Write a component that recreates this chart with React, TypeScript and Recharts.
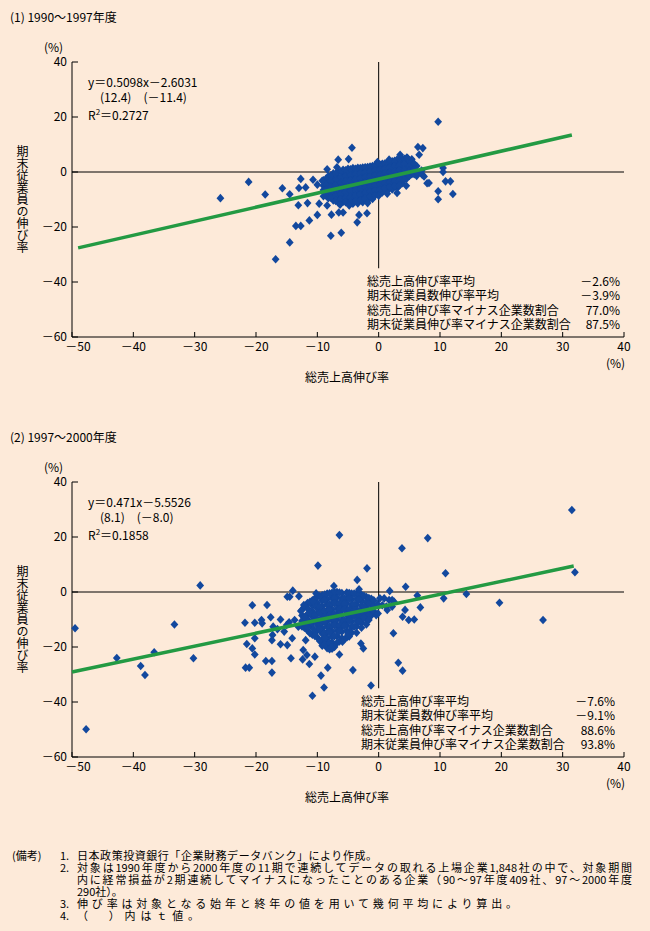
import React from 'react';
import { Scatter, ScatterChart, XAxis, YAxis } from 'recharts';

const FONT = '"Noto Sans CJK JP", "Noto Sans", sans-serif';
const BG = '#fdead9';
const BLUE = '#12489e';
const GREEN = '#239a43';

const xTicks = [-50, -40, -30, -20, -10, 0, 10, 20, 30, 40];
const yTicks = [-60, -40, -20, 0, 20, 40];

// (1) 1990-1997: [sales growth %, employee growth %]
const outliers1: [number, number][] = [
  [9.7, 18.3], [6.4, 9.1], [7.2, 8.7], [-4.35, 8.8], [6.6, 6.3], [3.5, 6.3], [4.7, 5.1],
  [1.7, 4.5], [-0.2, 3.6], [-6.6, 4.5], [-4.9, 4.7], [-8.4, 1.0], [-6.8, 1.7], [10.5, 1.5],
  [10.5, 0], [8.2, -4.0], [10.9, -3.4], [11.7, -3.4], [9.7, -7.0], [9.7, -9.9], [12.1, -8.0],
  [4.5, -5.0], [3.0, -7.6], [1.4, -7.9], [0, -8.6], [-25.8, -9.5], [-21.2, -3.6], [-18.5, -8.2],
  [-15.7, -5.9], [-14.5, -8.1], [-13.0, -5.8], [-12.7, -2.5], [-13.1, -12.1], [-11.6, -11.3],
  [-13.5, -19.6], [-12.7, -19.6], [-14.5, -25.6], [-16.8, -31.7], [-11.3, -17.6], [-10, -15.6],
  [-7.8, -23.2], [-6.1, -22.1], [-7.7, -15.5], [-6.5, -14.7], [-5.8, -14.7], [-3.5, -18.3],
  [-3.2, -15.6], [-1.9, -15.0], [-11.9, -5.6], [-10.7, -2.8], [-9.2, -3.2], [-10, -4.6],
  [-9.0, -8.8], [-9.7, -11.5], [-8.4, -12.2], [-6.3, -11.9], [-4.8, -12.2], [-1.8, -11.3],
  [6.3, -0.4], [7.1, -1.0], [7.4, -1.6], [7.9, -4.1],
];

const cluster1: [number, number][] = [
  [-9, -3], [-9, -5], [-9, -6.5],
  [-8.2, -1.5], [-8.2, -3.5], [-8.2, -5.5], [-8.2, -7.5], [-8.2, -9.5],
  [-7.4, -0.5], [-7.4, -2.5], [-7.4, -4.5], [-7.4, -6.5], [-7.4, -8.5], [-7.4, -10.3],
  [-6.6, 0.3], [-6.6, -1.8], [-6.6, -3.8], [-6.6, -5.8], [-6.6, -7.7], [-6.6, -9.6], [-6.6, -11],
  [-5.8, 0.8], [-5.8, -1.2], [-5.8, -3.2], [-5.8, -5.2], [-5.8, -7.1], [-5.8, -9.1], [-5.8, -10.8],
  [-5.0, 1.2], [-5.0, -0.8], [-5.0, -2.7], [-5.0, -4.6], [-5.0, -6.6], [-5.0, -8.5], [-5.0, -10.5],
  [-4.2, 1.4], [-4.2, -0.5], [-4.2, -2.4], [-4.2, -4.3], [-4.2, -6.3], [-4.2, -8.2], [-4.2, -10.2], [-4.2, -11.5],
  [-3.4, 1.5], [-3.4, -0.2], [-3.4, -2.0], [-3.4, -3.9], [-3.4, -5.9], [-3.4, -7.8], [-3.4, -9.8], [-3.4, -11.4],
  [-2.6, 1.6], [-2.6, 0.1], [-2.6, -1.6], [-2.6, -3.5], [-2.6, -5.4], [-2.6, -7.4], [-2.6, -9.3], [-2.6, -11],
  [-1.8, 1.8], [-1.8, 0.3], [-1.8, -1.3], [-1.8, -3.1], [-1.8, -5.0], [-1.8, -6.9], [-1.8, -8.8], [-1.8, -10.4],
  [-1.0, 2.2], [-1.0, 0.6], [-1.0, -1.0], [-1.0, -2.8], [-1.0, -4.6], [-1.0, -6.5], [-1.0, -8.3], [-1.0, -9.8],
  [-0.2, 2.6], [-0.2, 0.9], [-0.2, -0.7], [-0.2, -2.4], [-0.2, -4.2], [-0.2, -6.0], [-0.2, -7.8],
  [0.6, 3.0], [0.6, 1.2], [0.6, -0.4], [0.6, -2.1], [0.6, -3.8], [0.6, -5.6], [0.6, -7.4],
  [1.4, 3.4], [1.4, 1.6], [1.4, -0.1], [1.4, -1.8], [1.4, -3.5], [1.4, -5.2], [1.4, -6.8],
  [2.2, 3.9], [2.2, 2.0], [2.2, 0.3], [2.2, -1.5], [2.2, -3.2], [2.2, -4.9], [2.2, -6.3],
  [3.0, 4.5], [3.0, 2.5], [3.0, 0.6], [3.0, -1.2], [3.0, -2.9], [3.0, -4.6], [3.0, -5.8],
  [3.8, 5.0], [3.8, 3.0], [3.8, 1.0], [3.8, -0.9], [3.8, -2.6], [3.8, -4.2],
  [4.6, 5.3], [4.6, 3.3], [4.6, 1.4], [4.6, -0.5], [4.6, -2.3],
  [5.4, 4.6], [5.4, 2.7], [5.4, 1.0], [5.4, -0.8],
  [6.2, 2.2], [6.2, 0.3], [6.2, -1.4], [7.0, 0.5],
];

// staggered firms filling the dense core of (1)
const cluster1b: [number, number][] = [
  [-8.6, -2.5], [-8.6, -4.5], [-8.6, -6.5], [-8.6, -8.5],
  [-7.8, -1.3], [-7.8, -3.3], [-7.8, -5.3], [-7.8, -7.3], [-7.8, -9.3],
  [-7.0, -0.6], [-7.0, -2.7], [-7.0, -4.7], [-7.0, -6.7], [-7.0, -8.6], [-7.0, -10.5],
  [-6.2, 0.2], [-6.2, -1.9], [-6.2, -3.9], [-6.2, -5.9], [-6.2, -7.9], [-6.2, -9.9],
  [-5.4, 0.6], [-5.4, -1.5], [-5.4, -3.5], [-5.4, -5.5], [-5.4, -7.4], [-5.4, -9.4], [-5.4, -11],
  [-4.6, 1.0], [-4.6, -1.1], [-4.6, -3.1], [-4.6, -5.1], [-4.6, -7.0], [-4.6, -9.0], [-4.6, -10.8],
  [-3.8, 1.2], [-3.8, -0.7], [-3.8, -2.7], [-3.8, -4.7], [-3.8, -6.6], [-3.8, -8.6], [-3.8, -10.6],
  [-3.0, 1.4], [-3.0, -0.4], [-3.0, -2.3], [-3.0, -4.3], [-3.0, -6.2], [-3.0, -8.2], [-3.0, -10.2],
  [-2.2, 1.7], [-2.2, -0.2], [-2.2, -1.9], [-2.2, -3.8], [-2.2, -5.7], [-2.2, -7.6], [-2.2, -9.6],
  [-1.4, 2.0], [-1.4, 0.2], [-1.4, -1.6], [-1.4, -3.4], [-1.4, -5.3], [-1.4, -7.2], [-1.4, -9.0],
  [-0.6, 2.4], [-0.6, 0.5], [-0.6, -1.3], [-0.6, -3.1], [-0.6, -4.9], [-0.6, -6.8], [-0.6, -8.5],
  [0.2, 2.7], [0.2, 0.9], [0.2, -0.9], [0.2, -2.7], [0.2, -4.5], [0.2, -6.4],
  [1.0, 3.1], [1.0, 1.3], [1.0, -0.5], [1.0, -2.3], [1.0, -4.1], [1.0, -5.9],
  [1.8, 3.6], [1.8, 1.7], [1.8, -0.1], [1.8, -1.9], [1.8, -3.7], [1.8, -5.5],
  [2.6, 4.1], [2.6, 2.1], [2.6, 0.2], [2.6, -1.6], [2.6, -3.4], [2.6, -5.2],
  [3.4, 4.6], [3.4, 2.6], [3.4, 0.6], [3.4, -1.3], [3.4, -3.1], [3.4, -4.9],
  [4.2, 4.8], [4.2, 2.8], [4.2, 0.8], [4.2, -1.0], [4.2, -2.8],
  [5.0, 4.2], [5.0, 2.2], [5.0, 0.4], [5.0, -1.4],
  [5.8, 3.0], [5.8, 1.0], [5.8, -0.8],
];

// (2) 1997-2000
const outliers2: [number, number][] = [
  [31.5, 29.8], [-6.4, 20.7], [8.0, 19.6], [3.8, 15.9], [-9.9, 9.6], [-1.9, 8.6], [10.9, 6.8],
  [32, 7.2], [-3.5, 4.4], [-7.3, 2.2], [-29.1, 2.4], [-14.0, 0.5], [-10.2, -0.5], [-14.9, -1.7],
  [-14.5, -1.7], [-13, -1.5], [-3.2, 1.0], [1.8, 0.4], [4.4, 1.9], [6.3, -1.3], [10.6, -2.3],
  [14.3, -0.7], [19.7, -3.9], [26.8, -10.2], [6.8, -5.6], [4.3, -6.5], [4.9, -10.2], [5.8, -10],
  [2.4, -15], [3.2, -25.7], [3.9, -28.6], [-1.25, -34], [-4.2, -28.4], [-10.8, -37.7],
  [-8.9, -34.7], [-9.4, -30.4], [-8.3, -27.5], [-11.3, -26.2], [-12.4, -24.5], [-10.4, -23.5],
  [-11.7, -22.9], [-12.3, -21.1], [-14.3, -24.1], [-17.4, -29.3], [-17.4, -25.1], [-18.4, -25.1],
  [-21.7, -27.5], [-21.1, -27.5], [-20.2, -22.7], [-20.6, -20.5], [-21.5, -18.9], [-20.2, -16.8],
  [-21.8, -11.2], [-20.2, -11.2], [-19.1, -10.2], [-19, -11.4], [-20.6, -4.8], [-18.2, -4.7],
  [-17.6, -9.2], [-16, -10], [-17.3, -15.6], [-17.4, -17.5], [-17.2, -12.6], [-15.4, -14.4],
  [-16.0, -19.0], [-14.9, -19.3], [-14.1, -16.8], [-13.7, -10.2], [-13.1, -12.6], [-11.9, -17.5],
  [-11.6, -12.6], [-12.7, -6.9], [-12.2, -4.7], [-10.7, -3.5], [-5.9, -18.1], [-5, -15.3],
  [-2.9, -18.7], [-2.5, -20.5], [-6.4, -22.7], [-7.7, -19.9], [-0.4, -8.4], [-0.2, -4.4],
  [0.2, -2.3], [2.2, -2.9], [1.25, -5.3], [3.9, -9], [-15.0, -12.0], [-16.5, -13.5], [-14.6, -11.0],
  [0.9, -2.3], [1.7, -2.9], [2.5, -3.5], [0.6, -4.8], [1.4, -6.5], [-0.1, -7.8], [2.2, -5.3],
  [-49.5, -13.2], [-47.7, -49.9], [-42.7, -24], [-38.8, -26.9], [-38.1, -30.2], [-36.6, -21.9],
  [-33.3, -11.8], [-30.2, -24.1],
];

const cluster2: [number, number][] = [
  [-12.5, -6.5], [-12.5, -8.5], [-12.5, -10.5], [-12.5, -12.5],
  [-11.6, -4], [-11.6, -6], [-11.6, -8], [-11.6, -10], [-11.6, -12], [-11.6, -14],
  [-10.8, -3], [-10.8, -5], [-10.8, -7], [-10.8, -9], [-10.8, -11], [-10.8, -13], [-10.8, -15.5],
  [-10, -1.8], [-10, -4], [-10, -6], [-10, -8], [-10, -10], [-10, -12], [-10, -14], [-10, -16.5],
  [-9.2, -1.2], [-9.2, -3.2], [-9.2, -5.2], [-9.2, -7.2], [-9.2, -9.2], [-9.2, -11.2], [-9.2, -13.2], [-9.2, -15.2], [-9.2, -17.5], [-9.2, -19.5],
  [-8.4, -0.6], [-8.4, -2.6], [-8.4, -4.6], [-8.4, -6.6], [-8.4, -8.6], [-8.4, -10.6], [-8.4, -12.6], [-8.4, -14.6], [-8.4, -16.6], [-8.4, -18.6], [-8.4, -20.4],
  [-7.6, -0.3], [-7.6, -2.3], [-7.6, -4.3], [-7.6, -6.3], [-7.6, -8.3], [-7.6, -10.3], [-7.6, -12.3], [-7.6, -14.3], [-7.6, -16.3], [-7.6, -18.3], [-7.6, -20.6],
  [-6.8, 0], [-6.8, -2], [-6.8, -4], [-6.8, -6], [-6.8, -8], [-6.8, -10], [-6.8, -12], [-6.8, -14], [-6.8, -16], [-6.8, -18.5],
  [-6.0, -0.4], [-6.0, -2.4], [-6.0, -4.4], [-6.0, -6.4], [-6.0, -8.4], [-6.0, -10.4], [-6.0, -12.4], [-6.0, -14.4], [-6.0, -16.8],
  [-5.2, -0.2], [-5.2, -2.2], [-5.2, -4.2], [-5.2, -6.2], [-5.2, -8.2], [-5.2, -10.2], [-5.2, -12.2], [-5.2, -14.2], [-5.2, -16.5],
  [-4.4, -0.6], [-4.4, -2.6], [-4.4, -4.6], [-4.4, -6.6], [-4.4, -8.6], [-4.4, -10.6], [-4.4, -12.6], [-4.4, -14.8],
  [-3.6, -0.5], [-3.6, -2.5], [-3.6, -4.5], [-3.6, -6.5], [-3.6, -8.5], [-3.6, -10.5], [-3.6, -12.5], [-3.6, -14.8],
  [-2.8, -1], [-2.8, -3], [-2.8, -5], [-2.8, -7], [-2.8, -9], [-2.8, -11], [-2.8, -13],
  [-2.0, -1.8], [-2.0, -3.8], [-2.0, -5.8], [-2.0, -7.8], [-2.0, -9.8], [-2.0, -11.8],
  [-1.2, -2.5], [-1.2, -4.5], [-1.2, -6.5], [-1.2, -8.5],
];

// staggered firms filling the dense core of (2)
const cluster2b: [number, number][] = [
  [-12.1, -5.2], [-12.1, -9.2], [-12.1, -13],
  [-11.2, -3.6], [-11.2, -7.6], [-11.2, -11.6], [-11.2, -15],
  [-10.4, -2.4], [-10.4, -4.4], [-10.4, -8.4], [-10.4, -10.4], [-10.4, -14.4], [-10.4, -16],
  [-9.6, -1.5], [-9.6, -5.5], [-9.6, -7.5], [-9.6, -11.5], [-9.6, -13.5], [-9.6, -17.8],
  [-8.8, -0.9], [-8.8, -2.9], [-8.8, -6.9], [-8.8, -8.9], [-8.8, -10.9], [-8.8, -14.9], [-8.8, -16.9], [-8.8, -19],
  [-8.0, -0.5], [-8.0, -4.5], [-8.0, -6.5], [-8.0, -8.5], [-8.0, -12.5], [-8.0, -14.5], [-8.0, -18.5], [-8.0, -20.8],
  [-7.2, -0.1], [-7.2, -2.1], [-7.2, -4.1], [-7.2, -8.1], [-7.2, -10.1], [-7.2, -12.1], [-7.2, -16.1], [-7.2, -20],
  [-6.4, -0.2], [-6.4, -4.2], [-6.4, -6.2], [-6.4, -8.2], [-6.4, -12.2], [-6.4, -14.2], [-6.4, -18],
  [-5.6, -2.3], [-5.6, -4.3], [-5.6, -6.3], [-5.6, -10.3], [-5.6, -12.3], [-5.6, -17.2],
  [-4.8, -0.4], [-4.8, -2.4], [-4.8, -6.4], [-4.8, -8.4], [-4.8, -10.4], [-4.8, -14.4], [-4.8, -16.2],
  [-4.0, -0.6], [-4.0, -4.6], [-4.0, -6.6], [-4.0, -8.6], [-4.0, -12.6],
  [-3.2, -0.8], [-3.2, -2.8], [-3.2, -6.8], [-3.2, -8.8], [-3.2, -10.8],
  [-2.4, -1.4], [-2.4, -5.4], [-2.4, -7.4], [-2.4, -9.4],
  [-1.6, -2.2], [-1.6, -4.2], [-1.6, -8.2], [-1.6, -10.2],
  [-0.8, -3.0], [-0.8, -5.0], [-0.8, -7.0],
];

const fit1 = { slope: 0.5098, intercept: -2.6031, from: -49, to: 31.5 };
const fit2 = { slope: 0.471, intercept: -5.5526, from: -50, to: 31.8 };

const eq1 = ['y＝0.5098x－2.6031', '(12.4)　(－11.4)', '0.2727'];
const eq2 = ['y＝0.471x－5.5526', '(8.1)　(－8.0)', '0.1858'];

const statLabels = [
  '総売上高伸び率平均',
  '期末従業員数伸び率平均',
  '総売上高伸び率マイナス企業数割合',
  '期末従業員伸び率マイナス企業数割合',
];
const statValues1 = ['－2.6%', '－3.9%', '77.0%', '87.5%'];
const statValues2 = ['－7.6%', '－9.1%', '88.6%', '93.8%'];

const notes = [
  ['(備考)', '1.', '日本政策投資銀行「企業財務データバンク」により作成。'],
  ['', '2.', '対象は1990年度から2000年度の11期で連続してデータの取れる上場企業1,848社の中で、対象期間'],
  ['', '', '内に経常損益が2期連続してマイナスになったことのある企業（90〜97年度409社、97〜2000年度'],
  ['', '', '290社）。'],
  ['', '3.', '伸び率は対象となる始年と終年の値を用いて幾何平均により算出。'],
  ['', '4.', '（　）内はｔ値。'],
];
// set widths of the note lines (0 = natural width)
const noteWidths = [300, 555, 555, 0, 440, 122];

const fmt = (v: number) => (v < 0 ? '－' + Math.abs(v) : String(v));
const toPts = (arr: [number, number][]) => arr.map(([x, y]) => ({ x, y }));
const fitPts = (f: typeof fit1) => [
  { x: f.from, y: f.slope * f.from + f.intercept },
  { x: f.to, y: f.slope * f.to + f.intercept },
];
const hZero = [{ x: -50, y: 0 }, { x: 40, y: 0 }];
const vZero = [{ x: 0, y: 40 }, { x: 0, y: -35 }];

const XTick = (props: any) => {
  const { x, y, payload } = props;
  const v = payload.value;
  return (
    <g>
      <line x1={x} x2={x} y1={y} y2={y - 5} stroke="#000" />
      <text x={x + (v === -50 ? 6 : 0)} y={y + 14} textAnchor="middle" fontSize={12} fontFamily={FONT} fill="#000">
        {fmt(v)}
      </text>
    </g>
  );
};

const YTick = (props: any) => {
  const { x, y, payload } = props;
  return (
    <g>
      <line x1={x} x2={x + 6} y1={y} y2={y} stroke="#000" />
      <text x={x - 5} y={y} dy="0.35em" textAnchor="end" fontSize={12} fontFamily={FONT} fill="#000">
        {fmt(payload.value)}
      </text>
    </g>
  );
};

const Diamond = (props: any) => {
  const { cx, cy } = props;
  return <polygon points={`${cx},${cy - 4.3} ${cx + 3.9},${cy} ${cx},${cy + 4.3} ${cx - 3.9},${cy}`} fill={BLUE} />;
};
const NoShape = () => <g />;

const Txt = ({ x, y, right, children, style, lh = 14 }: any) => (
  <div
    style={{
      position: 'absolute',
      left: right ? undefined : x,
      right: right ? 650 - x : undefined,
      top: y - lh / 2,
      lineHeight: `${lh}px`,
      fontSize: 12,
      whiteSpace: 'nowrap',
      ...style,
    }}
  >
    {children}
  </div>
);

const Panel = ({ top, title, points, fit, eq, values, statX, statR, statY }: any) => (
  <>
    <Txt x={10} y={top + 17}>{title}</Txt>
    <Txt x={44} y={top + 47}>(%)</Txt>
    <div style={{ position: 'absolute', left: 0, top }}>
      <ScatterChart width={650} height={400} margin={{ top: 62, right: 26, left: 0, bottom: 0 }}>
        <XAxis
          type="number"
          dataKey="x"
          domain={[-50, 40]}
          ticks={xTicks}
          height={63}
          tickSize={0}
          tickMargin={0}
          tick={<XTick />}
          axisLine={{ stroke: '#000' }}
          tickLine={false}
        />
        <YAxis
          type="number"
          dataKey="y"
          domain={[-60, 40]}
          ticks={yTicks}
          width={72}
          tickSize={0}
          tickMargin={0}
          tick={<YTick />}
          axisLine={{ stroke: '#000' }}
          tickLine={false}
        />
        <Scatter data={hZero} line={{ stroke: '#000', strokeWidth: 1 }} shape={NoShape} isAnimationActive={false} />
        <Scatter data={vZero} line={{ stroke: '#000', strokeWidth: 1 }} shape={NoShape} isAnimationActive={false} />
        <Scatter data={points} shape={Diamond} isAnimationActive={false} />
        <Scatter data={fitPts(fit)} line={{ stroke: GREEN, strokeWidth: 3.5 }} shape={NoShape} isAnimationActive={false} />
      </ScatterChart>
    </div>
    <Txt x={88} y={top + 82}>{eq[0]}</Txt>
    <Txt x={100} y={top + 97}>{eq[1]}</Txt>
    <Txt x={88} y={top + 112}>
      R<sup style={{ fontSize: 8, verticalAlign: '5px' }}>2</sup>＝{eq[2]}
    </Txt>
    {statLabels.map((s: string, i: number) => (
      <Txt key={s} x={statX} y={statY + i * 14.4}>{s}</Txt>
    ))}
    {values.map((s: string, i: number) => (
      <Txt key={i} x={statR} right y={statY + i * 14.4}>{s}</Txt>
    ))}
    <Txt x={606} y={top + 363}>(%)</Txt>
    <Txt x={305} y={top + 377}>総売上高伸び率</Txt>
    <div
      style={{
        position: 'absolute',
        left: 15,
        top: top + 145,
        writingMode: 'vertical-rl',
        fontSize: 12,
        lineHeight: '14px',
      }}
    >
      期末従業員の伸び率
    </div>
  </>
);

export default function App() {
  return (
    <div
      lang="ja"
      style={{
        position: 'absolute',
        left: 0,
        top: 0,
        width: 650,
        height: 931,
        overflow: 'hidden',
        background: BG,
        fontFamily: FONT,
        color: '#000',
      }}
    >
      <Panel
        top={0}
        title="(1) 1990〜1997年度"
        points={[...toPts(cluster1), ...toPts(cluster1b), ...toPts(outliers1)]}
        fit={fit1}
        eq={eq1}
        values={statValues1}
        statX={367}
        statR={620}
        statY={281}
      />
      <Panel
        top={420}
        title="(2) 1997〜2000年度"
        points={[...toPts(cluster2), ...toPts(cluster2b), ...toPts(outliers2)]}
        fit={fit2}
        eq={eq2}
        values={statValues2}
        statX={361}
        statR={615}
        statY={701}
      />
      {notes.map((n, i) => (
        <React.Fragment key={i}>
          <Txt x={12} y={855 + i * 12} lh={11} style={{ fontSize: 11 }}>{n[0]}</Txt>
          <Txt x={60} y={855 + i * 12} lh={11} style={{ fontSize: 11 }}>{n[1]}</Txt>
          <Txt
            x={77}
            y={855 + i * 12}
            lh={11}
            style={
              noteWidths[i]
                ? { fontSize: 11, width: noteWidths[i], whiteSpace: 'normal', textAlign: 'justify', textAlignLast: 'justify' }
                : { fontSize: 11 }
            }
          >
            {n[2]}
          </Txt>
        </React.Fragment>
      ))}
    </div>
  );
}
